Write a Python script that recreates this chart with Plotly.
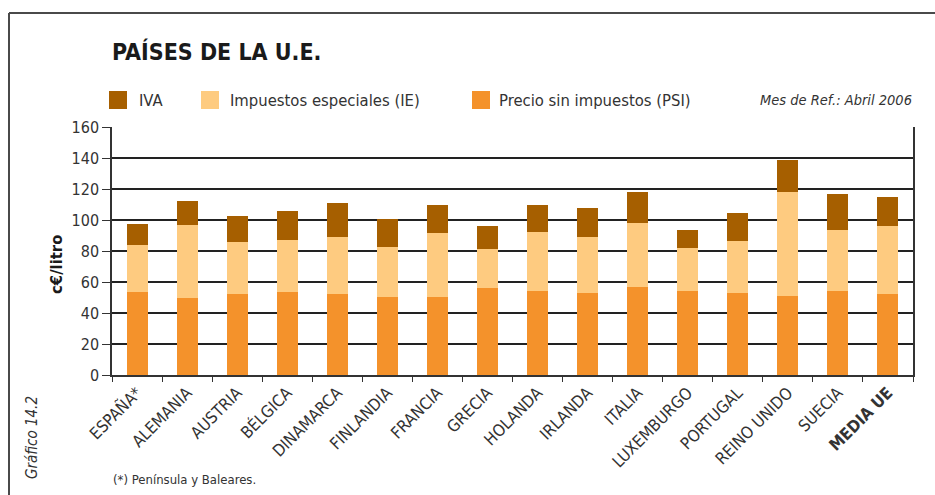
import plotly.graph_objects as go

# --- data (c€/litro), April 2006 ---
paises = ["ESPAÑA*", "ALEMANIA", "AUSTRIA", "BÉLGICA", "DINAMARCA", "FINLANDIA",
          "FRANCIA", "GRECIA", "HOLANDA", "IRLANDA", "ITALIA", "LUXEMBURGO",
          "PORTUGAL", "REINO UNIDO", "SUECIA", "MEDIA UE"]
psi = [53.6, 49.7, 52.3, 53.6, 52.3, 50.4, 50.4, 56.2, 54.3, 53.0, 56.8, 54.3, 53.0, 51.0, 54.3, 52.3]
ie = [30.4, 47.2, 33.6, 33.6, 36.8, 32.3, 41.3, 25.2, 38.1, 36.1, 41.4, 27.7, 33.6, 67.2, 39.4, 44.0]
iva = [13.5, 15.5, 16.8, 18.7, 22.0, 18.1, 18.1, 14.9, 17.4, 18.8, 20.0, 11.7, 18.1, 20.7, 23.2, 18.7]

series_names = ["IVA", "Impuestos especiales (IE)", "Precio sin impuestos (PSI)"]
series_colors = ["#A65F00", "#FECB80", "#F4922B"]
y_ticks = [0, 20, 40, 60, 80, 100, 120, 140, 160]

FONT = "DejaVu Sans Condensed, Liberation Sans Narrow, sans-serif"
TXT = "#333333"

W, H = 935, 495
L, R, T, B = 112, 913, 127, 375


def px(x):
    return (x - L) / (R - L)


def py(y):
    return (B - y) / (B - T)


tick_text = [f"<b>{p}</b>" if p == "MEDIA UE" else p for p in paises]

fig = go.Figure()
for vals, name, color in [(psi, series_names[2], series_colors[2]),
                          (ie, series_names[1], series_colors[1]),
                          (iva, series_names[0], series_colors[0])]:
    fig.add_trace(go.Bar(x=paises, y=vals, name=name, marker_color=color,
                         marker_line_width=0, showlegend=False))

fig.update_layout(
    width=W, height=H,
    margin=dict(l=L, r=W - R, t=T, b=H - B, pad=0),
    barmode="stack", bargap=0.58,
    plot_bgcolor="white", paper_bgcolor="white",
    font=dict(family=FONT, color=TXT, size=16),
)
fig.update_xaxes(
    tickmode="array", tickvals=paises, ticktext=tick_text, tickangle=-45,
    ticks="outside", ticklen=5, tickwidth=1, tickcolor="#333", tickson="boundaries",
    showline=True, linecolor="#333", linewidth=1.5, showgrid=False,
    tickfont=dict(size=16.5, color=TXT),
)
fig.update_yaxes(
    range=[0, 160], tickvals=y_ticks, ticks="outside", ticklen=8, tickcolor="#333",
    showline=True, mirror=True, linecolor="#333", linewidth=1.5,
    showgrid=True, gridcolor="#222", gridwidth=1.5, zeroline=False,
    tickfont=dict(size=16, color=TXT),
)

shapes = []
ann = []

# outer frame (top and left edges)
shapes.append(dict(type="line", xref="paper", yref="paper", x0=px(9), x1=px(936), y0=py(13), y1=py(13),
                   line=dict(color="#4a4a4a", width=2)))
shapes.append(dict(type="line", xref="paper", yref="paper", x0=px(9), x1=px(9), y0=py(13), y1=py(496),
                   line=dict(color="#4a4a4a", width=2)))

# legend swatches and labels
leg_pos = [(109, 137), (201, 228), (472, 497)]
for (sx, tx), name, color in zip(leg_pos, series_names, series_colors):
    shapes.append(dict(type="rect", xref="paper", yref="paper", x0=px(sx), x1=px(sx + 18),
                       y0=py(109), y1=py(91), fillcolor=color, line=dict(width=0)))
    ann.append(dict(xref="paper", yref="paper", x=px(tx), y=py(100), xanchor="left", yanchor="middle",
                    text=name, showarrow=False, font=dict(size=16.5, color=TXT)))

ann.append(dict(xref="paper", yref="paper", x=px(914), y=py(100), xanchor="right", yanchor="middle",
                text="<i>Mes de Ref.: Abril 2006</i>", showarrow=False, font=dict(size=14.5, color=TXT)))

# title
ann.append(dict(xref="paper", yref="paper", x=px(110), y=py(52), xanchor="left", yanchor="middle",
                text="<b>PAÍSES DE LA U.E.</b>", showarrow=False, font=dict(size=23, color="#1a1a1a")))

# y-axis title
ann.append(dict(xref="paper", yref="paper", x=px(56), y=py(265), xanchor="center", yanchor="middle",
                text="<b>c€/litro</b>", textangle=-90, showarrow=False, font=dict(size=16.5, color="#1a1a1a")))

# chart number
ann.append(dict(xref="paper", yref="paper", x=px(32), y=py(438), xanchor="center", yanchor="middle",
                text="<i>Gráfico 14.2</i>", textangle=-90, showarrow=False, font=dict(size=15, color=TXT)))

# footnote
ann.append(dict(xref="paper", yref="paper", x=px(111), y=py(479), xanchor="left", yanchor="middle",
                text="(*) Península y Baleares.", showarrow=False, font=dict(size=13, color=TXT)))

fig.update_layout(shapes=shapes, annotations=ann)
fig.write_html("out.html")
